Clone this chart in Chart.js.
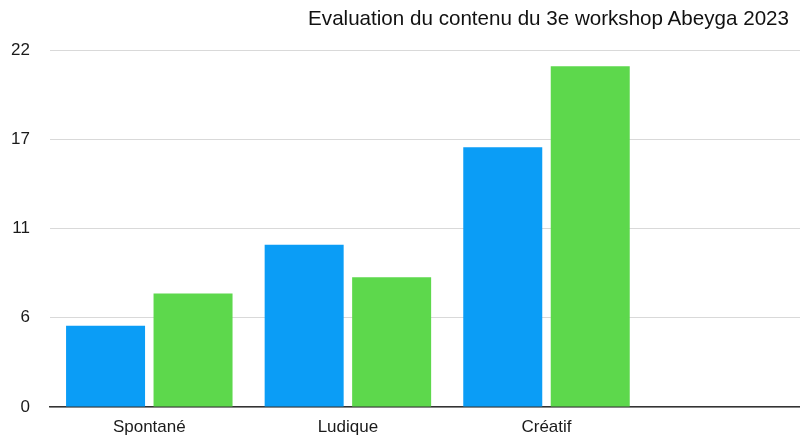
<!DOCTYPE html>
<html>
<head>
<meta charset="utf-8">
<script src="https://cdn.jsdelivr.net/npm/chart.js@4"></script>
<style>
  html, body { margin: 0; padding: 0; background: #fff; overflow: hidden; }
  #wrap { position: relative; width: 800px; height: 439px; }
  #title {
    position: absolute; right: 11px; top: 8px;
    font: 20.6px "Liberation Sans", Arial, Helvetica, sans-serif;
    line-height: 20px; color: #111; white-space: nowrap;
  }
</style>
</head>
<body>
<div id="wrap">
  <div id="title">Evaluation du contenu du 3e workshop Abeyga 2023</div>
  <canvas id="chart" width="800" height="439"></canvas>
</div>
<script>
const categories = ['Spontané', 'Ludique', 'Créatif'];
const seriesBlue = [5, 10, 16];
const seriesGreen = [7, 8, 21];
const yTicks = [0, 5.5, 11, 16.5, 22];

const ctx = document.querySelector('#chart').getContext('2d');
const font = { family: '"Liberation Sans", Arial, Helvetica, sans-serif', size: 17 };

// the chart shows a fourth empty slot that runs past the right edge
const xMax = -0.5 + 750 / 198.6;

new Chart(ctx, {
  type: 'bar',
  data: {
    datasets: [
      {
        label: 'Série 1',
        data: seriesBlue.map((v, i) => ({ x: i, y: v })),
        backgroundColor: '#0B9DF6'
      },
      {
        label: 'Série 2',
        data: seriesGreen.map((v, i) => ({ x: i, y: v })),
        backgroundColor: '#5DD84C'
      }
    ]
  },
  options: {
    responsive: false,
    animation: false,
    layout: { padding: { top: 50, left: 0, right: 0, bottom: 0 } },
    categoryPercentage: 0.881,
    barPercentage: 0.903,
    plugins: {
      legend: { display: false },
      title: { display: false },
      tooltip: { enabled: false }
    },
    scales: {
      x: {
        type: 'linear',
        min: -0.5,
        max: xMax,
        offset: false,
        grid: { display: false, drawTicks: false, offset: false },
        border: { display: true, color: '#333', width: 1.5 },
        ticks: {
          stepSize: 1,
          includeBounds: false,
          autoSkip: false,
          maxRotation: 0,
          padding: 10,
          color: '#1a1a1a',
          font: font,
          callback: v => categories[v] ?? ''
        },
        afterFit: s => { s.height = 32; }
      },
      y: {
        min: 0,
        max: 22,
        afterBuildTicks: s => { s.ticks = yTicks.map(v => ({ value: v })); },
        grid: { color: '#d9d9d9', lineWidth: 1, drawTicks: false },
        border: { display: false },
        ticks: {
          padding: 20,
          color: '#1a1a1a',
          font: font,
          callback: v => Math.round(v)
        },
        afterFit: s => { s.width = 50; }
      }
    }
  }
});
</script>
</body>
</html>
